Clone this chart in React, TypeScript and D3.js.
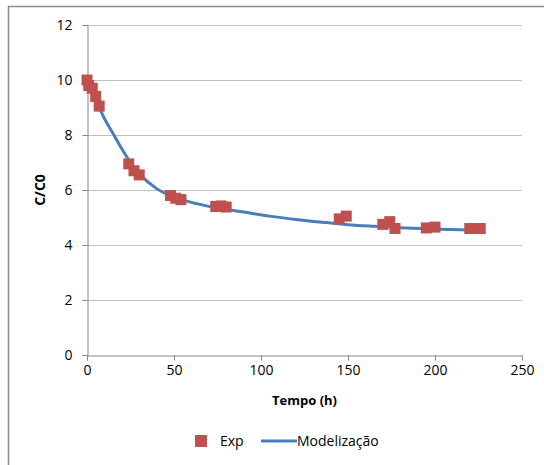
import React, { useEffect, useRef } from "react";
import * as d3 from "d3";

// experimental points (tempo in h, C/C0)
const expTime = [0, 1, 3, 5, 7, 24, 27, 30, 48, 51, 54, 74, 77, 80, 145, 149, 170, 174, 177, 195, 200, 220, 226];
const expValue = [10, 9.8, 9.7, 9.4, 9.05, 6.95, 6.7, 6.55, 5.8, 5.7, 5.65, 5.4, 5.42, 5.38, 4.95, 5.05, 4.75, 4.85, 4.6, 4.62, 4.65, 4.6, 4.6];

// model curve
const modelTime = [0, 5, 10, 15, 20, 25, 30, 40, 50, 60, 75, 90, 105, 120, 135, 150, 165, 180, 195, 210, 227];
const modelValue = [10, 9.3, 8.6, 8.05, 7.5, 7.0, 6.6, 6.05, 5.75, 5.55, 5.35, 5.2, 5.05, 4.93, 4.83, 4.74, 4.68, 4.63, 4.59, 4.56, 4.53];

const xTicks = [0, 50, 100, 150, 200, 250];
const yTicks = [0, 2, 4, 6, 8, 10, 12];

const font = "'Open Sans', sans-serif";

export default function App() {
  const ref = useRef<SVGSVGElement>(null);

  useEffect(() => {
    const svg = d3.select(ref.current);
    svg.selectAll("*").remove();

    const x = d3.scaleLinear().domain([0, 250]).range([87, 522]);
    const y = d3.scaleLinear().domain([0, 12]).range([355, 25]);

    // chart frame (only top and left are inside the picture)
    svg.append("path")
      .attr("d", "M8.5,560 L8.5,6.5 L600,6.5")
      .attr("fill", "none")
      .attr("stroke", "#8c8c8c")
      .attr("stroke-width", 1.5);

    // horizontal gridlines
    svg.append("g")
      .selectAll("line")
      .data(yTicks.filter(d => d > 0))
      .join("line")
      .attr("x1", x(0))
      .attr("x2", x(250))
      .attr("y1", d => Math.round(y(d)) + 0.5)
      .attr("y2", d => Math.round(y(d)) + 0.5)
      .attr("stroke", "#c0c0c0");

    // x axis
    const gx = svg.append("g")
      .attr("transform", `translate(0,${Math.round(y(0)) + 0.5})`)
      .call(d3.axisBottom(x).tickValues(xTicks).tickSize(5).tickPadding(5));
    gx.select(".domain").attr("stroke", "#868686");
    gx.selectAll(".tick line").attr("stroke", "#868686");
    gx.selectAll("text").attr("font-family", font).attr("font-size", 14).attr("fill", "#000");

    // y axis
    const gy = svg.append("g")
      .attr("transform", `translate(${Math.round(x(0)) + 0.5},0)`)
      .call(d3.axisLeft(y).tickValues(yTicks).tickSize(5).tickPadding(10));
    gy.select(".domain").attr("stroke", "#868686");
    gy.selectAll(".tick line").attr("stroke", "#868686");
    gy.selectAll("text").attr("font-family", font).attr("font-size", 14).attr("fill", "#000");

    // axis titles
    svg.append("text")
      .attr("x", (x(0) + x(250)) / 2)
      .attr("y", 405)
      .attr("text-anchor", "middle")
      .attr("font-family", font)
      .attr("font-size", 13)
      .attr("font-weight", "bold")
      .text("Tempo (h)");
    svg.append("text")
      .attr("transform", `translate(45,${y(6)}) rotate(-90)`)
      .attr("text-anchor", "middle")
      .attr("font-family", font)
      .attr("font-size", 14)
      .attr("font-weight", "bold")
      .text("C/C0");

    // model line
    const line = d3.line<number>()
      .x((d, i) => x(modelTime[i]))
      .y(d => y(d))
      .curve(d3.curveMonotoneX);
    svg.append("path")
      .datum(modelValue)
      .attr("d", line)
      .attr("fill", "none")
      .attr("stroke", "#4a7ebb")
      .attr("stroke-width", 3);

    // experimental squares
    const s = 11;
    svg.append("g")
      .selectAll("rect")
      .data(expValue)
      .join("rect")
      .attr("x", (d, i) => x(expTime[i]) - s / 2)
      .attr("y", d => y(d) - s / 2)
      .attr("width", s)
      .attr("height", s)
      .attr("fill", "#c0504d");

    // legend
    const lg = svg.append("g");
    lg.append("rect")
      .attr("x", 195).attr("y", 435).attr("width", 12).attr("height", 12)
      .attr("fill", "#c0504d");
    lg.append("text")
      .attr("x", 220).attr("y", 446)
      .attr("font-family", font).attr("font-size", 14)
      .text("Exp");
    lg.append("line")
      .attr("x1", 261).attr("x2", 297).attr("y1", 441).attr("y2", 441)
      .attr("stroke", "#4a7ebb").attr("stroke-width", 3);
    lg.append("text")
      .attr("x", 297).attr("y", 446)
      .attr("font-family", font).attr("font-size", 14)
      .text("Modelização");
  }, []);

  return (
    <svg
      ref={ref}
      width={544}
      height={465}
      style={{ position: "absolute", left: 0, top: 0, background: "#fff" }}
    />
  );
}
